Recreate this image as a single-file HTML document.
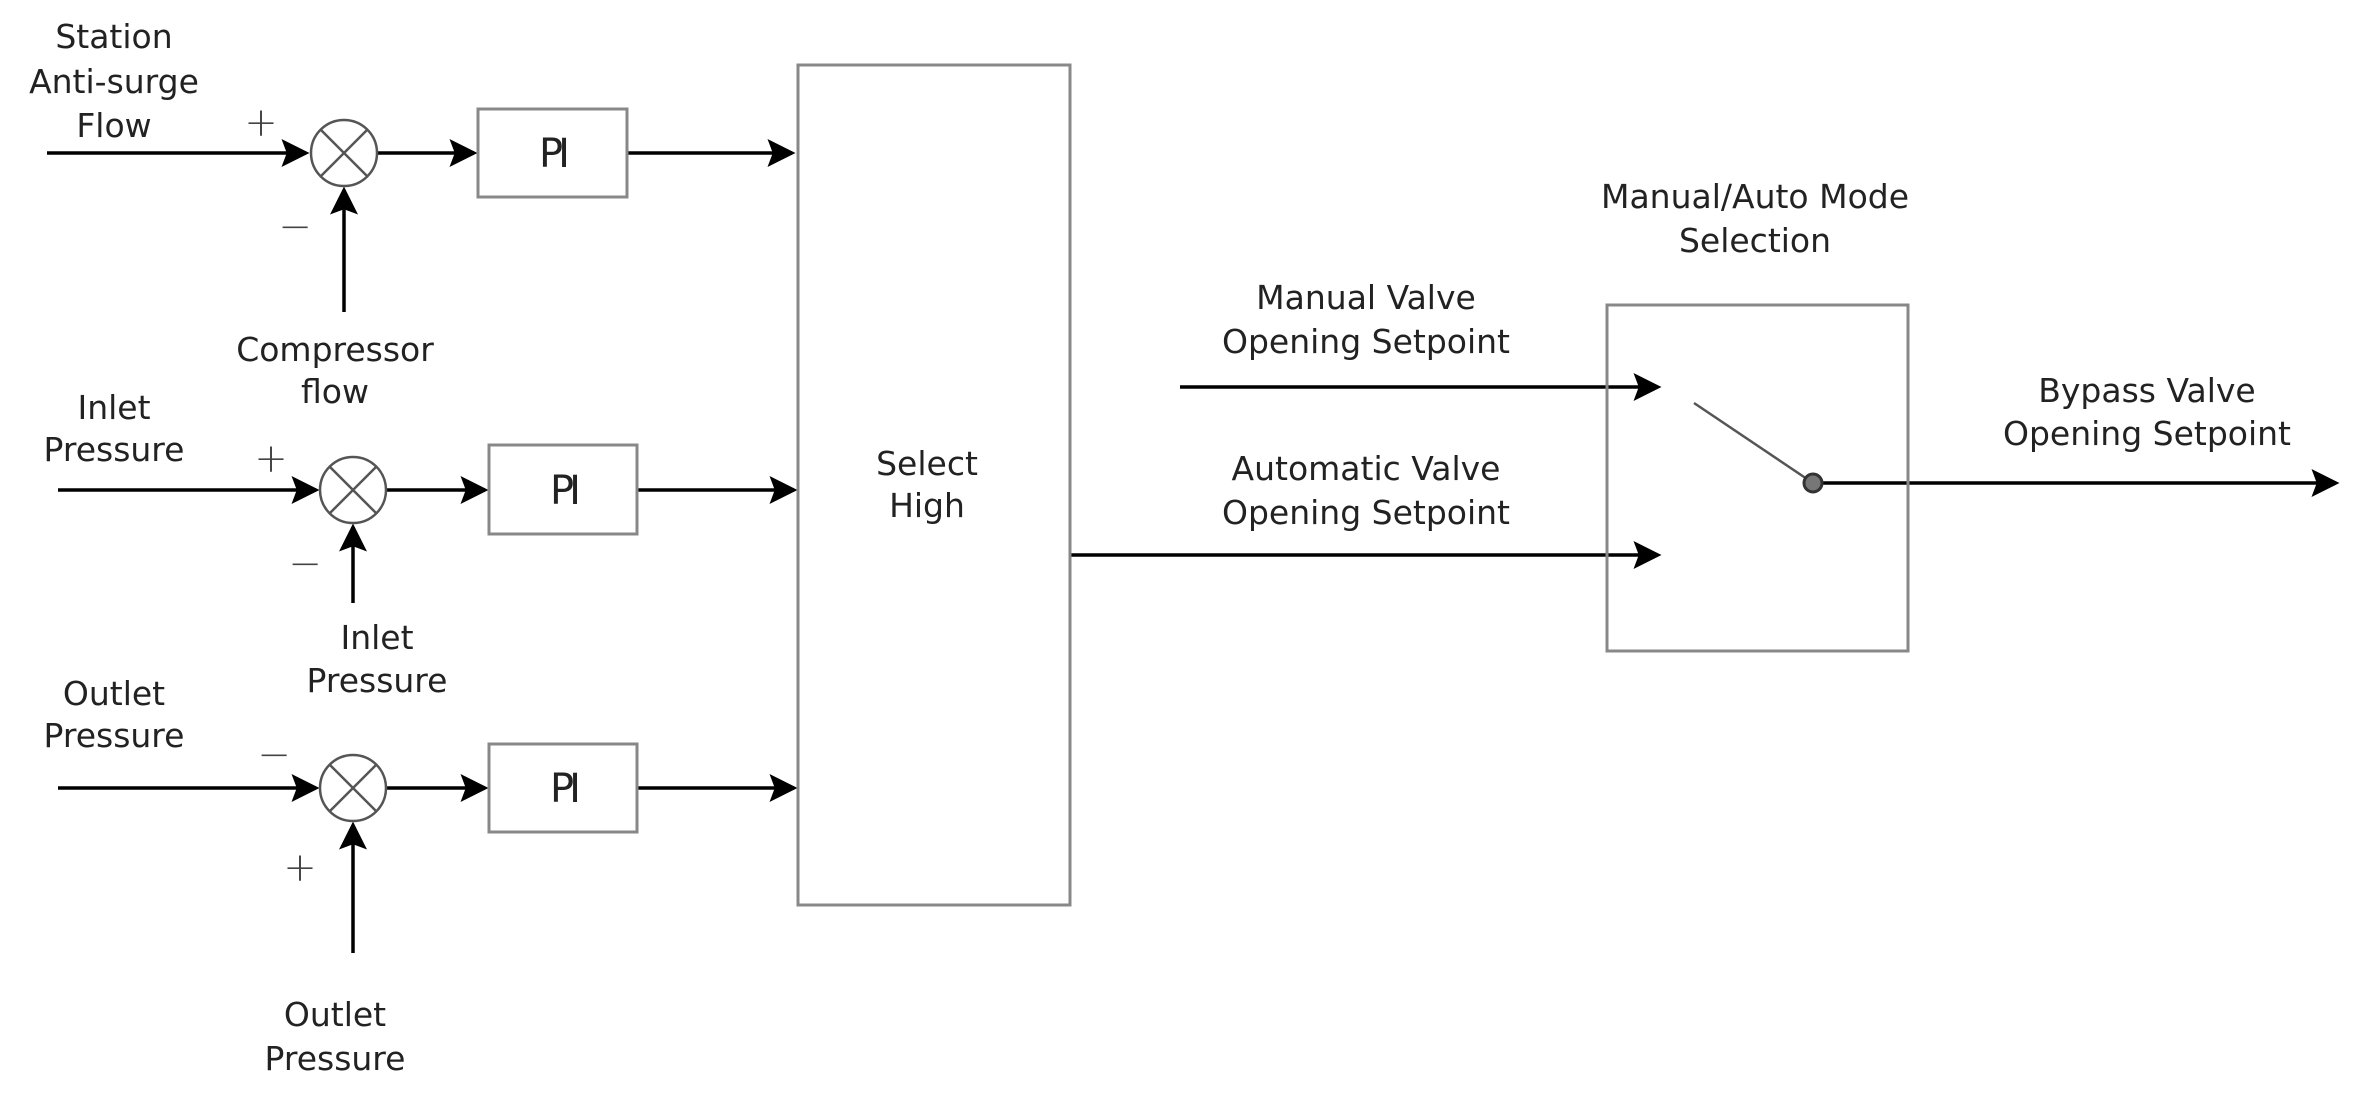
<!DOCTYPE html>
<html><head><meta charset="utf-8"><style>
html,body{margin:0;padding:0;background:#fff;}
svg{display:block;}
text{font-family:"DejaVu Sans","Liberation Sans",sans-serif;font-size:33px;fill:#222;text-anchor:middle;}
.pm{font-size:40px;font-weight:300;fill:#444;}
.pi{font-size:40px;letter-spacing:-5px;}
</style></head><body>
<svg width="2353" height="1111" viewBox="0 0 2353 1111" xmlns="http://www.w3.org/2000/svg">
<defs>
<marker id="a" markerWidth="8" markerHeight="8" refX="7" refY="4" orient="auto" markerUnits="strokeWidth">
<path d="M0,0 L8,4 L0,8 L1.5,4 z" fill="#000"/>
</marker>
</defs>
<g stroke="#000" stroke-width="3.5" fill="none" marker-end="url(#a)">
<!-- row1 -->
<line x1="47" y1="153" x2="306" y2="153"/>
<line x1="377" y1="153" x2="474" y2="153"/>
<line x1="627" y1="153" x2="792" y2="153"/>
<line x1="344" y1="312" x2="344" y2="190"/>
<!-- row2 -->
<line x1="58" y1="490" x2="316" y2="490"/>
<line x1="387" y1="490" x2="485" y2="490"/>
<line x1="637" y1="490" x2="794" y2="490"/>
<line x1="353" y1="603" x2="353" y2="527"/>
<!-- row3 -->
<line x1="58" y1="788" x2="316" y2="788"/>
<line x1="387" y1="788" x2="485" y2="788"/>
<line x1="637" y1="788" x2="794" y2="788"/>
<line x1="353" y1="953" x2="353" y2="825"/>
<!-- right -->
<line x1="1180" y1="387" x2="1658" y2="387"/>
<line x1="1070" y1="555" x2="1658" y2="555"/>
<line x1="1822" y1="483" x2="2336" y2="483"/>
</g>
<g stroke="#888" stroke-width="3" fill="none">
<rect x="798" y="65" width="272" height="840"/>
<rect x="1607" y="305" width="301" height="346"/>
<rect x="478" y="109" width="149" height="88"/>
<rect x="489" y="445" width="148" height="89"/>
<rect x="489" y="744" width="148" height="88"/>
</g>
<g stroke="#555" stroke-width="2.5" fill="#fff">
<circle cx="344" cy="153" r="33"/>
<circle cx="353" cy="490" r="33"/>
<circle cx="353" cy="788" r="33"/>
<path d="M321,130 L367,176 M367,130 L321,176 M330,467 L376,513 M376,467 L330,513 M330,765 L376,811 M376,765 L330,811" fill="none"/>
</g>
<line x1="1694" y1="403" x2="1813" y2="483" stroke="#555" stroke-width="2.5"/>
<circle cx="1813" cy="483" r="9" fill="#777" stroke="#333" stroke-width="3"/>
<text x="114" y="48">Station</text>
<text x="114" y="93">Anti-surge</text>
<text x="114" y="137">Flow</text>
<text class="pm" x="261" y="136">+</text>
<text class="pm" x="295" y="240">−</text>
<text x="335" y="361">Compressor</text>
<text x="335" y="403">flow</text>
<text x="114" y="419">Inlet</text>
<text x="114" y="461">Pressure</text>
<text class="pm" x="271" y="472">+</text>
<text class="pm" x="305" y="577">−</text>
<text x="377" y="649">Inlet</text>
<text x="377" y="692">Pressure</text>
<text x="114" y="705">Outlet</text>
<text x="114" y="747">Pressure</text>
<text class="pm" x="274" y="768">−</text>
<text class="pm" x="300" y="881">+</text>
<text x="335" y="1026">Outlet</text>
<text x="335" y="1070">Pressure</text>
<text class="pi" x="552" y="167">PI</text>
<text class="pi" x="563" y="504">PI</text>
<text class="pi" x="563" y="802">PI</text>
<text x="927" y="475">Select</text>
<text x="927" y="517">High</text>
<text x="1755" y="208">Manual/Auto Mode</text>
<text x="1755" y="252">Selection</text>
<text x="1366" y="309">Manual Valve</text>
<text x="1366" y="353">Opening Setpoint</text>
<text x="1366" y="480">Automatic Valve</text>
<text x="1366" y="524">Opening Setpoint</text>
<text x="2147" y="402">Bypass Valve</text>
<text x="2147" y="445">Opening Setpoint</text>
</svg>
</body></html>
